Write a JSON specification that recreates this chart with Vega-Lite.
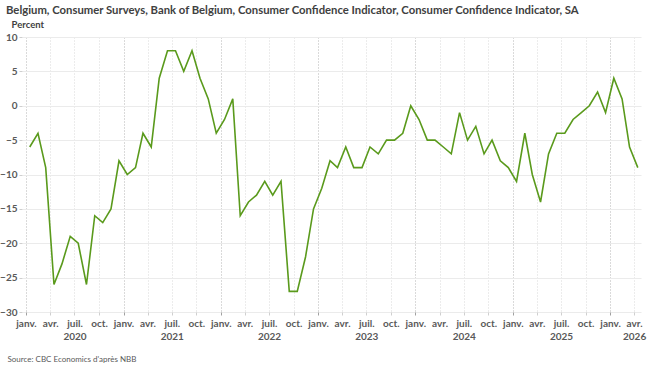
{
  "$schema": "https://vega.github.io/schema/vega-lite/v6.json",
  "width": 619,
  "height": 275,
  "autosize": {"type": "none"},
  "padding": {"left": 22, "top": 37, "right": 11, "bottom": 59},
  "background": "white",
  "config": {
    "font": "Lato",
    "view": {"stroke": null}
  },
  "title": {
    "text": "Belgium, Consumer Surveys, Bank of Belgium, Consumer Confidence Indicator, Consumer Confidence Indicator, SA",
    "anchor": "start",
    "frame": "group",
    "dx": -16,
    "offset": 3,
    "fontSize": 11.3,
    "fontWeight": "bold",
    "color": "#404040",
    "font": "Lato"
  },
  "data": {
    "values": [
      {"date": "2020/01/15", "value": -6}, {"date": "2020/02/15", "value": -4}, {"date": "2020/03/15", "value": -9}, {"date": "2020/04/15", "value": -26},
      {"date": "2020/05/15", "value": -23}, {"date": "2020/06/15", "value": -19}, {"date": "2020/07/15", "value": -20}, {"date": "2020/08/15", "value": -26},
      {"date": "2020/09/15", "value": -16}, {"date": "2020/10/15", "value": -17}, {"date": "2020/11/15", "value": -15}, {"date": "2020/12/15", "value": -8},
      {"date": "2021/01/15", "value": -10}, {"date": "2021/02/15", "value": -9}, {"date": "2021/03/15", "value": -4}, {"date": "2021/04/15", "value": -6},
      {"date": "2021/05/15", "value": 4}, {"date": "2021/06/15", "value": 8}, {"date": "2021/07/15", "value": 8}, {"date": "2021/08/15", "value": 5},
      {"date": "2021/09/15", "value": 8}, {"date": "2021/10/15", "value": 4}, {"date": "2021/11/15", "value": 1}, {"date": "2021/12/15", "value": -4},
      {"date": "2022/01/15", "value": -2}, {"date": "2022/02/15", "value": 1}, {"date": "2022/03/15", "value": -16}, {"date": "2022/04/15", "value": -14},
      {"date": "2022/05/15", "value": -13}, {"date": "2022/06/15", "value": -11}, {"date": "2022/07/15", "value": -13}, {"date": "2022/08/15", "value": -11},
      {"date": "2022/09/15", "value": -27}, {"date": "2022/10/15", "value": -27}, {"date": "2022/11/15", "value": -22}, {"date": "2022/12/15", "value": -15},
      {"date": "2023/01/15", "value": -12}, {"date": "2023/02/15", "value": -8}, {"date": "2023/03/15", "value": -9}, {"date": "2023/04/15", "value": -6},
      {"date": "2023/05/15", "value": -9}, {"date": "2023/06/15", "value": -9}, {"date": "2023/07/15", "value": -6}, {"date": "2023/08/15", "value": -7},
      {"date": "2023/09/15", "value": -5}, {"date": "2023/10/15", "value": -5}, {"date": "2023/11/15", "value": -4}, {"date": "2023/12/15", "value": 0},
      {"date": "2024/01/15", "value": -2}, {"date": "2024/02/15", "value": -5}, {"date": "2024/03/15", "value": -5}, {"date": "2024/04/15", "value": -6},
      {"date": "2024/05/15", "value": -7}, {"date": "2024/06/15", "value": -1}, {"date": "2024/07/15", "value": -5}, {"date": "2024/08/15", "value": -3},
      {"date": "2024/09/15", "value": -7}, {"date": "2024/10/15", "value": -5}, {"date": "2024/11/15", "value": -8}, {"date": "2024/12/15", "value": -9},
      {"date": "2025/01/15", "value": -11}, {"date": "2025/02/15", "value": -4}, {"date": "2025/03/15", "value": -10}, {"date": "2025/04/15", "value": -14},
      {"date": "2025/05/15", "value": -7}, {"date": "2025/06/15", "value": -4}, {"date": "2025/07/15", "value": -4}, {"date": "2025/08/15", "value": -2},
      {"date": "2025/09/15", "value": -1}, {"date": "2025/10/15", "value": 0}, {"date": "2025/11/15", "value": 2}, {"date": "2025/12/15", "value": -1},
      {"date": "2026/01/15", "value": 4}, {"date": "2026/02/15", "value": 1}, {"date": "2026/03/15", "value": -6}, {"date": "2026/04/15", "value": -9}
    ]
  },
  "mark": {"type": "line", "color": "#5a9a1c", "strokeWidth": 1.6, "interpolate": "linear"},
  "encoding": {
    "x": {
      "field": "date",
      "type": "temporal",
      "scale": {"domain": [{"year": 2019, "month": 12, "date": 17}, {"year": 2026, "month": 4, "date": 27}], "nice": false},
      "axis": {
        "tickCount": {"interval": "month", "step": 3},
        "labelExpr": "month(datum.value)==0 ? 'janv.' : month(datum.value)==3 ? (year(datum.value)==2026 ? ['avr.', '2026'] : 'avr.') : month(datum.value)==6 ? ['juil.', '' + year(datum.value)] : 'oct.'",
        "labelOverlap": false,
        "labelFlush": false,
        "labelBound": false,
        "labelFont": "Lato",
        "labelFontSize": 10,
        "labelFontWeight": "bold",
        "labelColor": "#595959",
        "labelLineHeight": 13,
        "labelPadding": 3,
        "domain": false,
        "ticks": true,
        "tickSize": 3,
        "tickColor": {"condition": {"test": "month(datum.value)==0", "value": "#a0a0a0"}, "value": "#cfcfcf"},
        "grid": true,
        "gridDash": [1, 2],
        "gridColor": {"condition": {"test": "month(datum.value)==0", "value": "#b5b5b5"}, "value": "#d8d8d8"},
        "gridWidth": 1,
        "title": "Source: CBC Economics d'après NBB",
        "titleFont": "Lato",
        "titleFontSize": 8,
        "titleFontWeight": "normal",
        "titleColor": "#595959",
        "titleAnchor": "start",
        "titleAlign": "left",
        "titleBaseline": "alphabetic",
        "titleX": -15,
        "titleY": 49
      }
    },
    "y": {
      "field": "value",
      "type": "quantitative",
      "scale": {"domain": [-30, 10], "nice": false, "zero": false},
      "axis": {
        "values": [-30, -25, -20, -15, -10, -5, 0, 5, 10],
        "labelFont": "Lato",
        "labelFontSize": 10,
        "labelFontWeight": "bold",
        "labelColor": "#595959",
        "labelPadding": 2,
        "domain": false,
        "ticks": true,
        "tickSize": 3,
        "tickColor": "#cfcfcf",
        "grid": true,
        "gridColor": "#ebebeb",
        "gridWidth": 1,
        "title": "Percent",
        "titleFont": "Lato",
        "titleFontSize": 9.5,
        "titleFontWeight": "bold",
        "titleColor": "#404040",
        "titleAngle": 0,
        "titleAlign": "left",
        "titleBaseline": "alphabetic",
        "titleX": -11,
        "titleY": -10
      }
    }
  }
}
